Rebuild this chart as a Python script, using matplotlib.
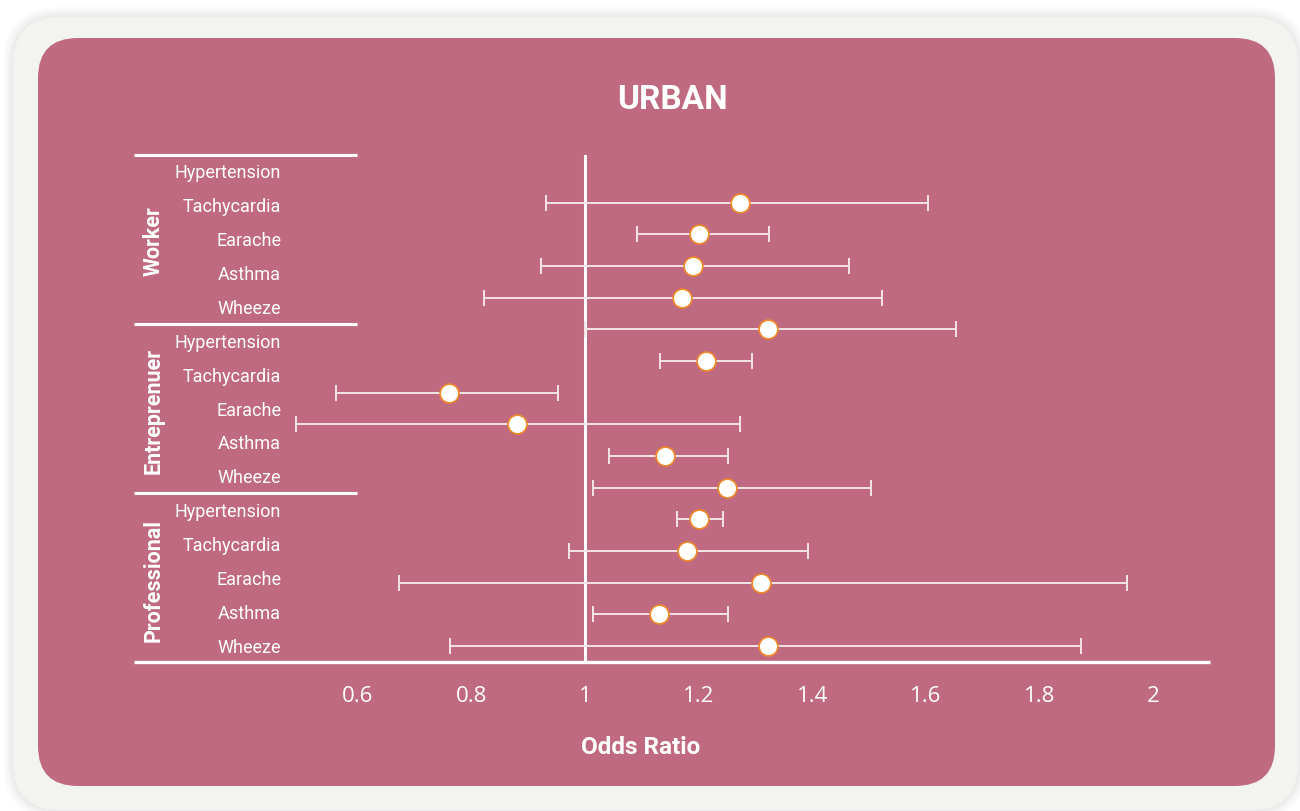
import matplotlib
matplotlib.use("Agg")
import matplotlib.pyplot as plt
from matplotlib.patches import FancyBboxPatch
import numpy as np

title = "URBAN"
groups = ["Worker", "Entreprenuer", "Professional"]
conditions = ["Hypertension", "Tachycardia", "Earache", "Asthma", "Wheeze"]
odds_ratio = [1.272, 1.201, 1.190, 1.171, 1.321,
              1.212, 0.760, 0.880, 1.141, 1.250,
              1.201, 1.180, 1.310, 1.130, 1.321]
ci_low = [0.931, 1.092, 0.922, 0.822, 1.000,
          1.132, 0.561, 0.490, 1.042, 1.014,
          1.162, 0.972, 0.672, 1.014, 0.762]
ci_high = [1.603, 1.323, 1.464, 1.522, 1.652,
           1.293, 0.952, 1.273, 1.252, 1.503,
           1.242, 1.393, 1.954, 1.252, 1.873]
xticks = [0.6, 0.8, 1.0, 1.2, 1.4, 1.6, 1.8, 2.0]
xticklabels = ["0.6", "0.8", "1", "1.2", "1.4", "1.6", "1.8", "2"]

W, H = 1300, 811
fig = plt.figure(figsize=(W / 100, H / 100), dpi=100)
fig.patch.set_facecolor("white")

# background axes in pixel units
bg = fig.add_axes([0, 0, 1, 1])
bg.set_xlim(0, W)
bg.set_ylim(H, 0)
bg.axis("off")
for i, a in enumerate([0.03, 0.03, 0.04, 0.05]):
    d = 10 - i * 2.5
    bg.add_patch(FancyBboxPatch((13 - d, 17 - d), 1285 + 2 * d, 793 + 2 * d,
                                boxstyle="round,pad=0,rounding_size=%d" % (48 + d),
                                fc="#808080", ec="none", alpha=a))
bg.add_patch(FancyBboxPatch((13, 17), 1285, 793, boxstyle="round,pad=0,rounding_size=48",
                            fc="#F3F4EF", ec="none"))
bg.add_patch(FancyBboxPatch((38, 38), 1237, 748, boxstyle="round,pad=0,rounding_size=40",
                            fc="#BF6A80", ec="none"))

# title and x label
bg.text(672, 100, title, ha="center", va="center", color="white",
        fontsize=24, fontweight="bold", family="Roboto")
bg.text(641, 748, "Odds Ratio", ha="center", va="center", color="white",
        fontsize=17.5, fontweight="bold", family="Roboto")

ax_l, ax_r, ax_t, ax_b = 358, 1210, 155, 662
ax = fig.add_axes([ax_l / W, 1 - ax_b / H, (ax_r - ax_l) / W, (ax_b - ax_t) / H])
ax.set_facecolor("none")
ax.set_xlim(0.6, 2.1)
n = len(odds_ratio)
ax.set_ylim(n - 0.5, -1.5)
for s in ["top", "right", "left", "bottom"]:
    ax.spines[s].set_visible(False)
ax.set_yticks([])
ax.set_xticks(xticks)
ax.set_xticklabels(xticklabels, family="Open Sans", fontsize=16, color="white")
ax.tick_params(axis="x", length=0, pad=17)
ax.axvline(1.0, color="white", lw=2.2, zorder=1)

ys = np.arange(n)
or_ = np.array(odds_ratio)
err = np.array([or_ - np.array(ci_low), np.array(ci_high) - or_])
ax.errorbar(or_, ys, xerr=err, fmt="none", ecolor="#F4E4E8", elinewidth=1.4,
            capsize=6, capthick=1.4, zorder=2, clip_on=False)
ax.plot(or_, ys, "o", ms=13.5, mfc="white", mec="#F08A28", mew=1.2, zorder=3,
        clip_on=False)

# label column (pixel layout)
row_top, row_step = 173, (647 - 172) / 14
for g, gname in enumerate(groups):
    for c, cname in enumerate(conditions):
        r = g * 5 + c
        bg.text(281, row_top + r * row_step, cname, ha="right", va="center",
                color="white", fontsize=13, family="Roboto")
    bg.text(154, row_top + (g * 5 + 2) * row_step, gname, ha="center", va="center",
            rotation=90, color="white", fontsize=15.5, fontweight="bold",
            family="Roboto")
    ysep = 155 + g * (662 - 155) / 3
    bg.plot([134, 357], [ysep, ysep], color="white", lw=2.2, solid_capstyle="butt")

# bottom line across everything
bg.plot([134, 1210], [662, 662], color="white", lw=2.4, solid_capstyle="butt")

fig.savefig("out.png", dpi=100)
